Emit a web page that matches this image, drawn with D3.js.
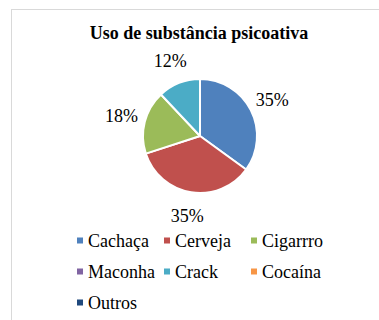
<!DOCTYPE html>
<html>
<head>
<meta charset="utf-8">
<script src="https://cdn.jsdelivr.net/npm/d3@7"></script>
<style>
  html, body { margin: 0; padding: 0; background: #fff; }
  svg { display: block; }
</style>
</head>
<body>
<svg id="chart" width="379" height="320"></svg>
<script>
// Substances and share of use (%)
const categories = ["Cachaça", "Cerveja", "Cigarro", "Maconha", "Crack", "Cocaína", "Outros"];
const legendLabels = ["Cachaça", "Cerveja", "Cigarrro", "Maconha", "Crack", "Cocaína", "Outros"];
const values = [35, 35, 18, 0, 12, 0, 0];
const colors = ["#4f81bd", "#c0504d", "#9bbb59", "#8064a2", "#4bacc6", "#f79646", "#1f497d"];
const title = "Uso de substância psicoativa";

const serif = "'Liberation Serif', 'Times New Roman', 'DejaVu Serif', serif";
const svg = d3.select("#chart")
  .attr("font-family", serif);

// chart area frame
svg.append("rect")
  .attr("x", 11.5).attr("y", 9.5)
  .attr("width", 420).attr("height", 420)
  .attr("fill", "#fff")
  .attr("stroke", "#d9d9d9")
  .attr("stroke-width", 1);

svg.append("text")
  .attr("x", 199).attr("y", 39)
  .attr("text-anchor", "middle")
  .attr("font-family", serif)
  .attr("font-weight", "bold")
  .attr("font-size", 18)
  .attr("fill", "#000")
  .text(title);

const cx = 200, cy = 136, r = 57;
const color = d3.scaleOrdinal().domain(categories).range(colors);

const pie = d3.pie().sort(null).value(d => d.value);
const data = categories.map((c, i) => ({ name: c, value: values[i] }));
const arcs = pie(data);

const arc = d3.arc().innerRadius(0).outerRadius(r);
const g = svg.append("g").attr("transform", `translate(${cx},${cy})`);

g.selectAll("path")
  .data(arcs.filter(d => d.value > 0))
  .join("path")
  .attr("d", arc)
  .attr("fill", d => color(d.data.name))
  .attr("stroke", "#fff")
  .attr("stroke-width", 2)
  .attr("stroke-linejoin", "round");

// value labels outside the slices
const labelArc = d3.arc().innerRadius(81).outerRadius(81);
g.selectAll("text.val")
  .data(arcs.filter(d => d.value > 0))
  .join("text")
  .attr("class", "val")
  .attr("transform", d => `translate(${labelArc.centroid(d)})`)
  .attr("text-anchor", "middle")
  .attr("dy", "0.35em")
  .attr("font-family", serif)
  .attr("font-size", 18)
  .attr("fill", "#000")
  .text(d => d.value + "%");

// legend, three columns
const legend = svg.append("g");
const colX = d3.scaleOrdinal().domain([0, 1, 2]).range([77, 164, 251]);
const rowY = d3.scaleLinear().domain([0, 1]).range([240.5, 271.5]);
const items = legend.selectAll("g")
  .data(legendLabels)
  .join("g")
  .attr("transform", (d, i) => `translate(${colX(i % 3)},${rowY(Math.floor(i / 3))})`);
items.append("rect")
  .attr("x", 0).attr("y", -3)
  .attr("width", 6).attr("height", 6)
  .attr("fill", (d, i) => colors[i]);
items.append("text")
  .attr("x", 11).attr("y", 0)
  .attr("dy", "0.35em")
  .attr("font-family", serif)
  .attr("font-size", 18)
  .attr("fill", "#000")
  .text(d => d);
</script>
</body>
</html>
